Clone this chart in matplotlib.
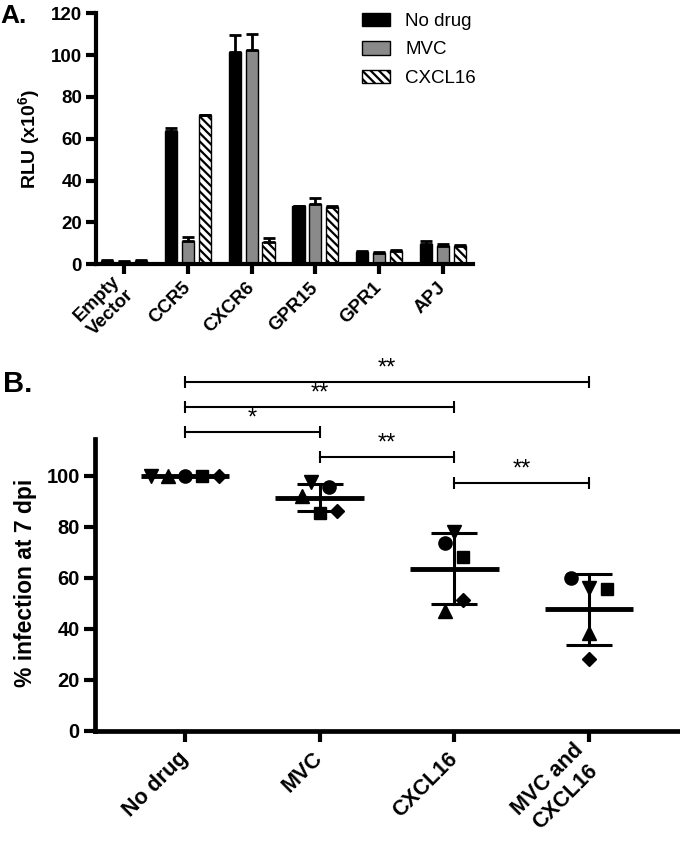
import numpy as np
import matplotlib.pyplot as plt
from matplotlib.patches import Patch

plt.rcParams['font.family'] = ['Liberation Sans', 'DejaVu Sans']
plt.rcParams['mathtext.fontset'] = 'custom'
plt.rcParams['mathtext.rm'] = 'Liberation Sans'
plt.rcParams['mathtext.bf'] = 'Liberation Sans:bold'
plt.rcParams['hatch.linewidth'] = 1.6

# panel A data (RLU x10^6, mean and upper error)
receptors = ['Empty\nVector', 'CCR5', 'CXCR6', 'GPR15', 'GPR1', 'APJ']
treatments = ['No drug', 'MVC', 'CXCL16']
rlu_nodrug = [1.5, 63.7, 101.3, 27.7, 6.0, 9.9]
rlu_mvc = [1.0, 11.1, 102.4, 28.8, 5.4, 8.7]
rlu_cxcl16 = [1.5, 71.2, 10.8, 27.5, 6.2, 8.6]
err_nodrug = [0.6, 1.6, 8.5, 0.4, 0.3, 1.2]
err_mvc = [0.4, 1.8, 7.6, 3.0, 0.3, 0.8]
err_cxcl16 = [0.6, 0.3, 1.9, 0.5, 0.4, 0.8]

# panel B data (% infection at 7 dpi), donors in order v ^ o s D
groups = ['No drug', 'MVC', 'CXCL16', 'MVC and\nCXCL16']
nodrug_pts = [100, 100, 100, 100, 100]
mvc_pts = [97.6, 92.2, 95.4, 85.5, 86.2]
cxcl16_pts = [78.0, 47.0, 73.7, 68.0, 51.3]
combo_pts = [56.0, 38.2, 60.0, 55.6, 28.0]
donor_markers = ['v', '^', 'o', 's', 'D']

# significance comparisons
comparisons = [(0, 3), (0, 2), (0, 1), (1, 2), (2, 3)]
stars = ['**', '**', '*', '**', '**']
sig_heights = [136.9, 126.8, 117.0, 107.5, 97.0]

W, H = 680, 841
fig = plt.figure(figsize=(W / 100, H / 100), dpi=100)

# ---------------- panel A ----------------
axA = fig.add_axes([96 / W, 1 - 264.3 / H, (473 - 96) / W, (264.3 - 13.3) / H])
x = np.arange(len(receptors))
bw = 0.19
off = 0.265
series = [(rlu_nodrug, err_nodrug, 'black', ''),
          (rlu_mvc, err_mvc, '#8a8a8a', ''),
          (rlu_cxcl16, err_cxcl16, 'white', '\\\\\\\\')]
for i, (vals, errs, col, hatch) in enumerate(series):
    xs = x + (i - 1) * off
    axA.bar(xs, vals, bw, color=col, edgecolor='black', linewidth=1.0,
            hatch=hatch, label=treatments[i], zorder=2)
    axA.errorbar(xs, vals, yerr=[np.zeros(len(vals)), errs], fmt='none',
                 ecolor='black', elinewidth=2, capsize=4, capthick=2, zorder=3)

axA.set_xlim(-0.44, 5.47)
axA.set_ylim(0, 120)
axA.set_yticks(range(0, 121, 20))
axA.set_xticks(x)
axA.set_xticklabels(receptors, rotation=45, ha='right', va='center',
                    rotation_mode='anchor', fontsize=13.5, fontweight='bold',
                    multialignment='center')
for lab in axA.get_yticklabels():
    lab.set_fontsize(13.5)
    lab.set_fontweight('bold')
for s in ['top', 'right']:
    axA.spines[s].set_visible(False)
for s in ['left', 'bottom']:
    axA.spines[s].set_linewidth(3)
axA.tick_params(axis='both', length=7, width=3, pad=3)
axA.tick_params(axis='x', pad=8)
axA.set_ylabel(r'RLU (x10$^{\mathbf{6}}$)', fontsize=14, fontweight='bold')
axA.yaxis.set_label_coords(43 / W, 1 - 138.5 / H, transform=fig.transFigure)

handles = [Patch(facecolor='black', edgecolor='black'),
           Patch(facecolor='#8a8a8a', edgecolor='black'),
           Patch(facecolor='white', edgecolor='black', hatch='\\\\\\\\')]
fig.legend(handles, treatments, loc='upper left',
           bbox_to_anchor=(362 / W, 1 - 13 / H), frameon=False, fontsize=13.5,
           handlelength=1.5, handleheight=0.7, handletextpad=0.8,
           labelspacing=0.6, borderpad=0, borderaxespad=0)

fig.text(0, 1 - 4 / H, 'A.', fontsize=19, fontweight='bold', va='top', ha='left')

# ---------------- panel B ----------------
axB = fig.add_axes([95 / W, 1 - 730.7 / H, (W - 95) / W, (730.7 - 439) / H])
pts = [nodrug_pts, mvc_pts, cxcl16_pts, combo_pts]
jitter = [[-0.25, -0.125, 0, 0.125, 0.255],
          [-0.067, -0.134, 0.067, 0, 0.126],
          [0, -0.069, -0.069, 0.062, 0.062],
          [0, 0, -0.134, 0.134, 0]]
msizes = {'v': 9.5, '^': 9.5, 'o': 9.5, 's': 8.5, 'D': 7}
for g, (vals, jit) in enumerate(zip(pts, jitter)):
    vals = np.array(vals, dtype=float)
    m = vals.mean()
    sd = vals.std(ddof=1)
    axB.plot([g - 0.33, g + 0.33], [m, m], color='black', lw=3.5,
             solid_capstyle='butt', zorder=3)
    if sd > 0:
        axB.plot([g, g], [m - sd, m + sd], color='black', lw=2.2, zorder=3)
        for yy in (m - sd, m + sd):
            axB.plot([g - 0.17, g + 0.17], [yy, yy], color='black', lw=2.2,
                     solid_capstyle='butt', zorder=3)
    for v, j, mk in zip(vals, jit, donor_markers):
        axB.plot(g + j, v, marker=mk, color='black', markersize=msizes[mk],
                 linestyle='none', zorder=4)

for (a, b), st, h in zip(comparisons, stars, sig_heights):
    axB.plot([a, b], [h, h], color='black', lw=1.5, clip_on=False,
             marker='|', markersize=8, markeredgewidth=1.5)
    axB.text((a + b) / 2, h + 1.0, st, ha='center', va='bottom',
             fontsize=17, clip_on=False)

axB.set_xlim(-0.668, 3.676)
axB.set_ylim(0, 114.4)
axB.set_yticks(range(0, 101, 20))
axB.set_xticks(range(len(groups)))
axB.set_xticklabels(groups, rotation=45, ha='right', va='center',
                    rotation_mode='anchor', fontsize=15.5, fontweight='bold',
                    multialignment='center')
for lab in axB.get_yticklabels():
    lab.set_fontsize(14.5)
    lab.set_fontweight('bold')
for s in ['top', 'right']:
    axB.spines[s].set_visible(False)
for s in ['left', 'bottom']:
    axB.spines[s].set_linewidth(3.4)
axB.tick_params(axis='both', length=8, width=3, pad=3)
axB.tick_params(axis='x', pad=10)
axB.set_ylabel('% infection at 7 dpi', fontsize=16.5, fontweight='bold')
axB.yaxis.set_label_coords(37 / W, 1 - 583 / H, transform=fig.transFigure)

fig.text(3 / W, 1 - 370 / H, 'B.', fontsize=21, fontweight='bold', va='top', ha='left')

fig.savefig('out.png', dpi=100)
